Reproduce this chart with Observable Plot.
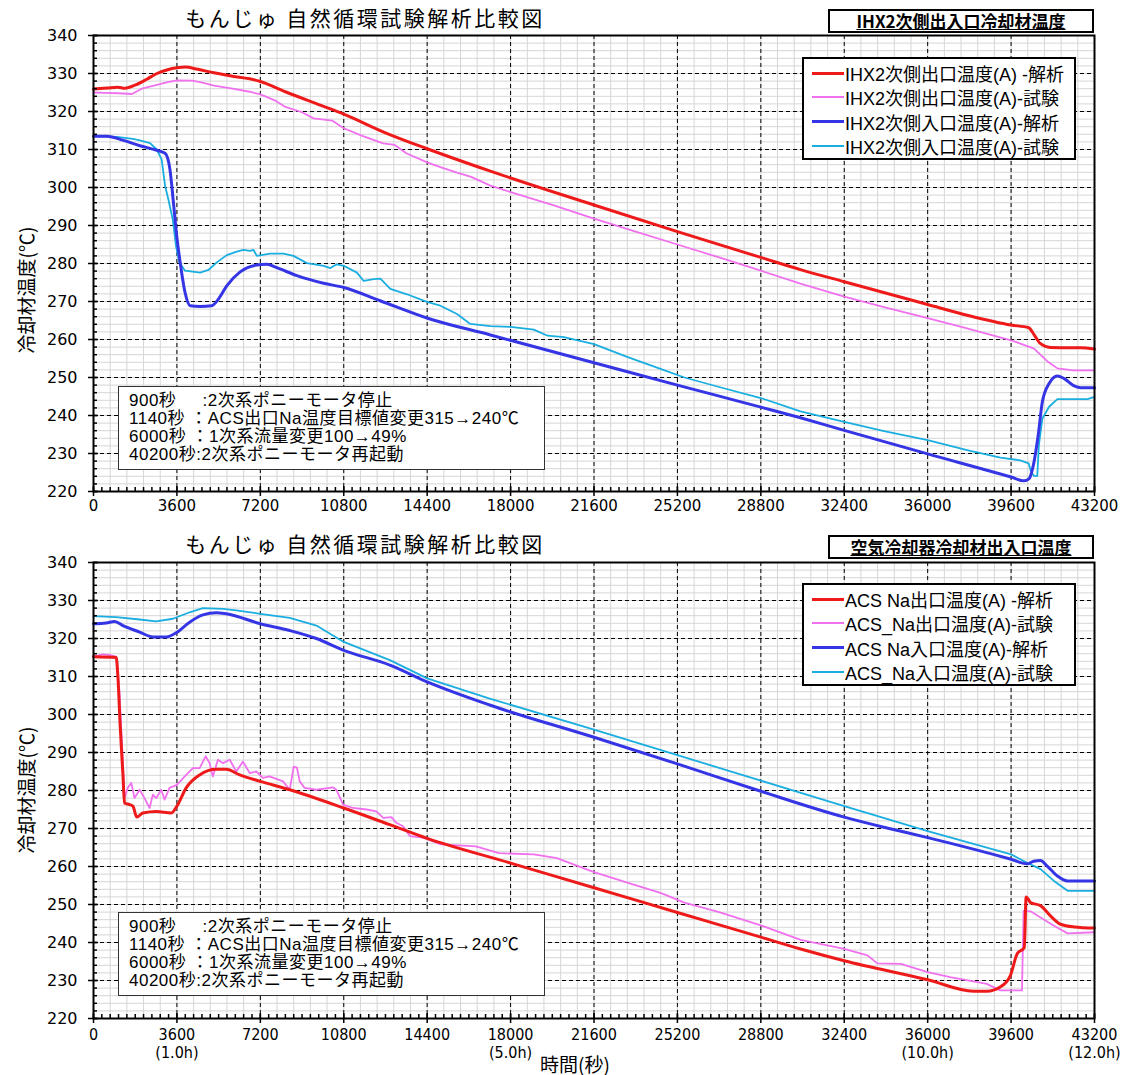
<!DOCTYPE html>
<html lang="ja"><head><meta charset="utf-8">
<script src="https://cdn.jsdelivr.net/npm/d3@7"></script>
<script src="https://cdn.jsdelivr.net/npm/@observablehq/plot@0.6"></script>
<style>
html,body{margin:0;padding:0;background:#fff;}
#root{position:relative;width:1125px;height:1075px;overflow:hidden;background:#fff;font-family:"Liberation Sans","Noto Sans CJK JP",sans-serif;color:#000;}
#root svg{position:absolute;left:0;}
.ov{position:absolute;box-sizing:border-box;}
.title{font-family:"Noto Sans CJK JP",sans-serif;font-size:21px;letter-spacing:2.5px;transform:translate(-50%,-50%);white-space:nowrap;}
.boxtitle{border:2px solid #000;background:#fff;font-family:"Noto Sans CJK JP",sans-serif;font-weight:bold;font-size:17px;text-align:center;line-height:19px;text-decoration:underline;}
.legend{border:2px solid #000;background:#fff;}
.legend .row{position:absolute;left:8px;height:24px;display:flex;align-items:center;font-size:18px;white-space:nowrap;}
.legend .sw{width:32px;margin-right:1px;}
.note{border:1.5px solid #333;background:#fff;font-size:17px;}
.note div{position:absolute;left:10px;white-space:pre;line-height:18px;letter-spacing:0.5px;}
.ylab{font-family:"Noto Sans CJK JP",sans-serif;font-size:19px;transform:translate(-50%,-50%) rotate(-90deg);white-space:nowrap;}
.xlab{font-family:"Noto Sans CJK JP",sans-serif;font-size:19px;transform:translate(-50%,-50%);white-space:nowrap;}
</style></head><body><div id="root"></div>
<script>
// ---------- tick values / labels ----------
const xTicks = [0,3600,7200,10800,14400,18000,21600,25200,28800,32400,36000,39600,43200];
const yTicks = [220,230,240,250,260,270,280,290,300,310,320,330,340];
const hourTicks = [3600,18000,36000,43200];
const hourLabels = ["(1.0h)","(5.0h)","(10.0h)","(12.0h)"];
const xMinorTicks = d3.range(0, 43201, 360);
const xMinorGrid = d3.range(0, 43201, 720);
const yMinor = d3.range(220, 341, 2);

// ---------- text ----------
const mainTitle = "もんじゅ 自然循環試験解析比較図";
const topBoxTitle = "IHX2次側出入口冷却材温度";
const botBoxTitle = "空気冷却器冷却材出入口温度";
const yLabel = "冷却材温度(℃)";
const xLabel = "時間(秒)";
const noteLines = [
  "900秒     :2次系ポニーモータ停止",
  "1140秒 ：ACS出口Na温度目標値変更315→240℃",
  "6000秒 ：1次系流量変更100→49%",
  "40200秒:2次系ポニーモータ再起動"
];
const topLegend = ["IHX2次側出口温度(A) -解析","IHX2次側出口温度(A)-試験","IHX2次側入口温度(A)-解析","IHX2次側入口温度(A)-試験"];
const botLegend = ["ACS Na出口温度(A) -解析","ACS_Na出口温度(A)-試験","ACS Na入口温度(A)-解析","ACS_Na入口温度(A)-試験"];

// ---------- top panel series [time s, temp C] ----------
const ihxOutCalc = [[0,325.9],[600,326.2],[1050,326.4],[1350,326.1],[1820,327],[2300,328.5],[2740,330],[3200,331],[3600,331.5],[3960,331.7],[4500,331.1],[5200,330.2],[6000,329.3],[6740,328.6],[7200,327.9],[8280,325.2],[9820,321.6],[10800,319.3],[12600,314.4],[14400,310.2],[17130,304.3],[21600,295.4],[25200,288.4],[28800,281.6],[30510,278.4],[32400,275.2],[36000,269.2],[37700,266.4],[39600,263.8],[40360,263.1],[40590,261.3],[40870,258.9],[41300,257.9],[42600,257.8],[43200,257.5]];
const ihxOutTest = [[0,325],[500,324.9],[1050,324.8],[1660,324.6],[2120,326.1],[2740,327],[3200,327.7],[3600,328.2],[4260,328.1],[4700,327.6],[5200,326.8],[6000,326],[6740,325.2],[7200,324.5],[7800,323],[8280,321.2],[9000,319.8],[9500,318.2],[10300,317.6],[10800,315.6],[11600,313.6],[12500,311.6],[13000,311.2],[13500,309],[14400,306.6],[15000,305.3],[15690,303.9],[16300,302.8],[17130,300.5],[18000,298.8],[19800,295.4],[21600,291.8],[23400,288.4],[25200,285],[27000,281.6],[28800,278.1],[30510,274.7],[32400,271.3],[34200,268.4],[36000,265.6],[37700,262.9],[39600,259.8],[40590,257.6],[41160,254.3],[41600,252.4],[42300,251.9],[43200,251.9]];
const ihxInCalc = [[0,313.5],[580,313.5],[1290,312.4],[2000,311],[2730,309.8],[3090,309],[3300,304.7],[3450,296],[3590,287.3],[3740,280.3],[3950,272.4],[4170,268.9],[4600,268.7],[5100,268.9],[5390,270.6],[5750,274.1],[6330,277.8],[7050,279.6],[7480,279.8],[7910,278.9],[8780,276.8],[9930,274.8],[10800,273.7],[12370,270.2],[14420,265.6],[17130,261.2],[21600,253.9],[25200,248],[28800,242.2],[30510,239.4],[32400,236.1],[36000,229.9],[39600,223.8],[40160,222.8],[40380,223.4],[40590,227.8],[40770,234.8],[40950,243.6],[41240,248.4],[41600,250.4],[41890,249.7],[42320,247.8],[42610,247.3],[43200,247.3]];
const ihxInTest = [[0,313.5],[1000,313.3],[1700,312.8],[2000,312.4],[2440,311.7],[2730,310],[2940,307.4],[3090,300.4],[3230,296.9],[3420,291.6],[3560,284.6],[3700,280.3],[3950,278.1],[4600,277.6],[4960,278.3],[5320,280.3],[5750,282.2],[6180,283.1],[6470,283.6],[6760,283.3],[6900,283.6],[7050,282],[7620,282.6],[8200,282.6],[8630,282],[9210,280.1],[9930,279.4],[10220,278.8],[10500,279.8],[10800,279.4],[11370,277.6],[11660,275.4],[12090,275.9],[12380,276],[12810,273.3],[13530,271.9],[14390,269.9],[14970,268.9],[15690,266.7],[16260,264.1],[17130,263.5],[18000,263.3],[19000,262.6],[19600,261],[20300,260.6],[21600,258.8],[23000,255.5],[24500,252.2],[25500,250],[27000,247.5],[28800,244.6],[30510,241.1],[32400,238.3],[34120,235.9],[36000,233.5],[37700,230.9],[39140,228.9],[40000,228.2],[40360,227.4],[40460,225.2],[40590,224.1],[40730,224.1],[40800,232.2],[40950,239.2],[41240,242.3],[41600,244.3],[42900,244.3],[43200,244.9]];

// ---------- bottom panel series ----------
const acsOutCalc = [[0,315.2],[980,315],[1050,310.3],[1150,297.2],[1270,284.1],[1340,276.7],[1560,276.3],[1700,275.9],[1870,273],[2130,274.1],[2710,274.5],[3360,274.1],[3600,275.9],[4000,280.7],[4580,284.1],[5300,285.6],[5730,285.6],[6310,284.1],[7200,282.4],[8470,280.2],[10800,275.4],[12790,271],[14400,267.4],[18000,260.9],[21600,254.4],[25200,247.9],[28800,241.4],[30520,238.3],[32400,235.2],[36000,230.2],[37980,227.2],[38550,227.2],[39130,228.3],[39570,231.3],[39860,237],[40170,238.7],[40250,252],[40440,250.5],[40870,249.7],[41300,247],[41740,244.8],[42320,244.1],[43200,243.8]];
const acsOutTest = [[0,315.2],[400,315.8],[690,315.6],[980,315.2],[1120,306],[1240,291.1],[1340,278],[1480,280.7],[1630,282],[1770,278],[1990,280.2],[2200,278],[2420,275.4],[2560,278.9],[2710,278],[2920,280.2],[3070,277.6],[3280,280.7],[3600,281.5],[4000,284.1],[4290,285.9],[4580,285.9],[4840,289],[5010,287.2],[5150,283.7],[5370,288.1],[5590,287.2],[5880,288.1],[6160,285],[6450,287.6],[6740,284.6],[7030,285],[7310,283.3],[7600,283.7],[8180,282.4],[8470,280.2],[8640,286.3],[8780,286],[8900,282.4],[9110,280.7],[9620,280.2],[10340,280.8],[10480,280.2],[10770,276.3],[11200,275.4],[11780,275],[12210,274.5],[12500,272.8],[12860,273],[13070,271.5],[13360,270.6],[13650,268],[14230,267.6],[15000,265.8],[16500,265.3],[17500,263.5],[19000,263.2],[20000,262.2],[21600,258.5],[23000,255.8],[24500,253],[25500,250.5],[27000,248],[28800,244.5],[30520,240.7],[32400,238.3],[33400,236.6],[33830,234.5],[34840,234.4],[36000,232.2],[36970,230.9],[38550,229.1],[39130,227.4],[40070,227.4],[40140,248.3],[40440,248.2],[40870,246.6],[41450,244.4],[42040,242.4],[43200,242.7]];
const acsInCalc = [[0,323.9],[550,324.1],[910,324.5],[1270,323.4],[1990,321.7],[2560,320.4],[3140,320.4],[3570,321.5],[4150,324.3],[4720,326.2],[5300,326.8],[5730,326.5],[7200,323.9],[8470,322.1],[9620,320],[10800,316.9],[12790,313],[14400,308.6],[17100,302.5],[21600,294],[25200,287],[28800,279.8],[32400,273],[34200,270.2],[36000,267.6],[39600,261.9],[40290,260.7],[40580,261.4],[40870,261.6],[41160,260.1],[41600,257.5],[42040,256.2],[43200,256.2]];
const acsInTest = [[0,325.9],[980,325.6],[1990,325],[2700,324.5],[3430,325.2],[4150,326.9],[4720,328],[5590,327.8],[6160,327.4],[7200,326.5],[8470,325.4],[9620,323.4],[10800,319.1],[12790,314.3],[14400,309.5],[17100,304.2],[21600,296],[25200,289.3],[28800,282.6],[32400,275.9],[36000,269.3],[39600,263.2],[40290,261],[40870,259.3],[41450,256.2],[42040,253.6],[43200,253.6]];

// ---------- styles ----------
const RED = "#ee1a1a", PINK = "#f070ee", BLUE = "#3535e6", CYAN = "#1aaee0";
const styles = [
  {color: RED, width: 3},
  {color: PINK, width: 1.8},
  {color: BLUE, width: 3},
  {color: CYAN, width: 1.8}
];

const root = document.getElementById("root");

function panel(series, {height, marginBottom, top, bottomAxis}) {
  const tickFont = "DejaVu Sans";
  const narrow = '"Liberation Sans Narrow","DejaVu Sans Condensed",sans-serif';
  const marks = [
    Plot.gridY(yMinor, {stroke: "#d6d6d6", strokeOpacity: 1}),
    Plot.gridX(xMinorGrid, {stroke: "#d6d6d6", strokeOpacity: 1}),
    Plot.gridY(yTicks, {stroke: "#000", strokeOpacity: 1, strokeDasharray: "4,3"}),
    Plot.gridX(xTicks, {stroke: "#000", strokeOpacity: 1, strokeDasharray: "4,3"}),
  ];
  [1, 3, 0, 2].forEach(i => {
    marks.push(Plot.line(series[i], {x: d => d[0], y: d => d[1], stroke: styles[i].color, strokeWidth: styles[i].width, curve: i % 2 === 0 ? "monotone-x" : "linear"}));
  });
  marks.push(
    Plot.axisY(yMinor, {anchor: "left", tickSize: 4, dx: 4, tickFormat: () => "", label: null, strokeWidth: 1.5}),
    Plot.axisY(yTicks, {anchor: "left", tickSize: 10, dx: 5, tickPadding: 11, label: null, strokeWidth: 1.5, fontSize: 16, fontFamily: tickFont, tickFormat: d => String(d)}),
    Plot.axisX(xMinorTicks, {anchor: "bottom", tickSize: 4, dy: -4, tickFormat: () => "", label: null, strokeWidth: 1.5}),
    Plot.axisX(xTicks, {anchor: "bottom", tickSize: 10, dy: -5, tickPadding: bottomAxis ? 5 : 4, label: null, strokeWidth: 1.5,
      fontSize: bottomAxis ? 16 : 15, fontFamily: bottomAxis ? narrow : tickFont, tickFormat: d => String(d)}),
  );
  if (bottomAxis) {
    marks.push(Plot.axisX(hourTicks, {anchor: "bottom", tickSize: 0, tickPadding: 28, label: null, fontSize: 16, fontFamily: narrow,
      tickFormat: d => hourLabels[hourTicks.indexOf(d)]}));
  }
  marks.push(Plot.frame({stroke: "#000", strokeWidth: 2}));
  const svg = Plot.plot({
    width: 1125, height, marginLeft: 93, marginRight: 31, marginTop: 35, marginBottom,
    x: {domain: [0, 43200], label: null},
    y: {domain: [220, 340], label: null},
    style: {background: "transparent", color: "#000", overflow: "visible"},
    marks
  });
  svg.style.top = top + "px";
  root.appendChild(svg);
}

panel([ihxOutCalc, ihxOutTest, ihxInCalc, ihxInTest], {height: 527, marginBottom: 36, top: 0, bottomAxis: false});
panel([acsOutCalc, acsOutTest, acsInCalc, acsInTest], {height: 548, marginBottom: 57, top: 527, bottomAxis: true});

function el(cls, css, html) {
  const d = document.createElement("div");
  d.className = "ov " + cls;
  Object.assign(d.style, css);
  if (html !== undefined) d.textContent = html;
  root.appendChild(d);
  return d;
}

function overlays(off, boxTitle, legendTexts) {
  el("title", {left: "365px", top: (17 + off) + "px"}, mainTitle);
  el("boxtitle", {left: "828px", top: (9 + off) + "px", width: "266px", height: "24px"}, boxTitle);
  const lg = el("legend", {left: "802px", top: (57 + off) + "px", width: "274px", height: "103px"});
  legendTexts.forEach((t, i) => {
    const r = document.createElement("div");
    r.className = "row";
    r.style.top = (2 + i * 24.3) + "px";
    const sw = document.createElement("span");
    sw.className = "sw";
    sw.style.height = (i % 2 === 0 ? 3 : 2) + "px";
    sw.style.background = styles[i].color;
    const tx = document.createElement("span");
    tx.textContent = t;
    r.appendChild(sw); r.appendChild(tx);
    lg.appendChild(r);
  });
  const nt = el("note", {left: "118px", top: (386 + off) + "px", width: "427px", height: "84px"});
  noteLines.forEach((t, i) => {
    const d = document.createElement("div");
    d.style.top = (5 + i * 18) + "px";
    d.textContent = t;
    nt.appendChild(d);
  });
  el("ylab", {left: "25px", top: (290 + off * 0.95) + "px"}, yLabel);
}
overlays(0, topBoxTitle, topLegend);
overlays(526, botBoxTitle, botLegend);
el("xlab", {left: "575px", top: "1063px"}, xLabel);
</script></body></html>
